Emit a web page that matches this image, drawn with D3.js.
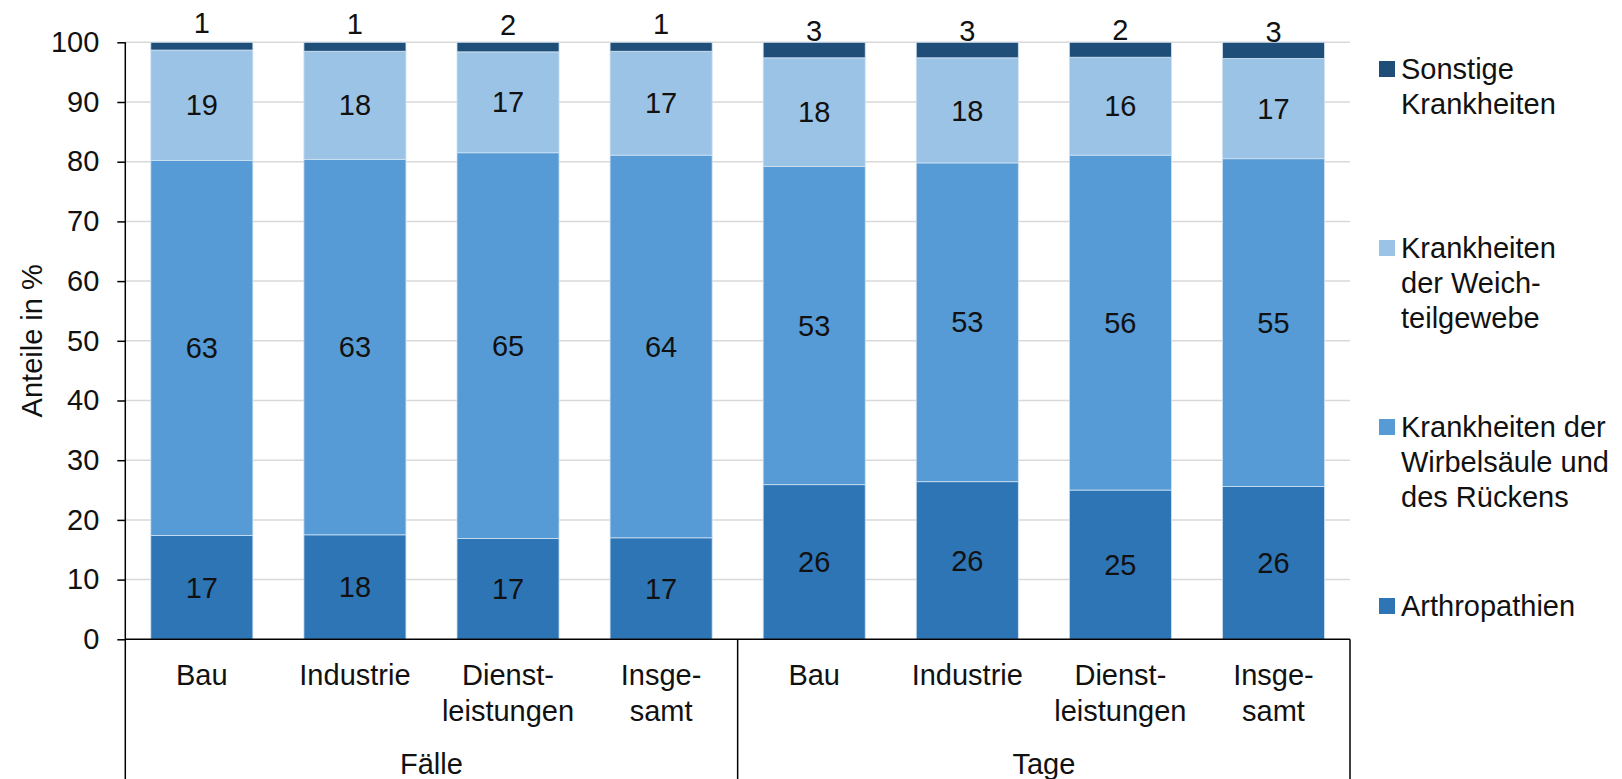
<!DOCTYPE html>
<meta charset="utf-8">
<head>
<title>Anteile in %</title>
<style>
  body { margin: 0; background: #fff; }
  text { font-family: "Liberation Sans", Arial, sans-serif; fill: #111; }
</style>
</head>
<body>
<div id="chart"></div>
<script src="https://d3js.org/d3.v7.min.js"></script>
<script>

// data (shares in %)
var groups = ["Fälle", "Tage"];
var branches = [["Bau"], ["Industrie"], ["Dienst-", "leistungen"], ["Insge-", "samt"]];
var arthropathien = [17.4, 17.5, 16.9, 17.0, 25.9, 26.4, 25.0, 25.6];
var wirbelsaeule  = [62.8, 62.9, 64.6, 64.1, 53.3, 53.4, 56.1, 54.9];
var weichteile    = [18.5, 18.1, 16.9, 17.4, 18.2, 17.6, 16.4, 16.8];
var sonstige      = [1.3, 1.5, 1.6, 1.5, 2.6, 2.6, 2.5, 2.7];
// printed labels
var lblArthro   = [17, 18, 17, 17, 26, 26, 25, 26];
var lblWirbel   = [63, 63, 65, 64, 53, 53, 56, 55];
var lblWeich    = [19, 18, 17, 17, 18, 18, 16, 17];
var lblSonstige = [1, 1, 2, 1, 3, 3, 2, 3];
var yTicks = [0, 10, 20, 30, 40, 50, 60, 70, 80, 90, 100];

var seriesNames = ["Arthropathien", "Wirbelsaeule", "Weichteile", "Sonstige"];
var seriesColors = ["#2e75b6", "#569bd5", "#9bc3e6", "#1f4e79"];
var legendLines = [
  ["Sonstige", "Krankheiten"],
  ["Krankheiten", "der Weich-", "teilgewebe"],
  ["Krankheiten der", "Wirbelsäule und", "des Rückens"],
  ["Arthropathien"]
];
var legendColors = ["#1f4e79", "#9bc3e6", "#569bd5", "#2e75b6"];

var width = 1622, height = 779;
var plotLeft = 125.3, plotRight = 1350, plotTop = 42.3, plotBottom = 639.3;
var fs = 29;

var svg = d3.select("#chart").append("svg")
  .attr("width", width)
  .attr("height", height);

var rows = [];
groups.forEach(function(g, gi) {
  branches.forEach(function(b, bi) {
    var i = gi * branches.length + bi;
    rows.push({
      key: g + "|" + bi, group: g, lines: b,
      Arthropathien: arthropathien[i], Wirbelsaeule: wirbelsaeule[i],
      Weichteile: weichteile[i], Sonstige: sonstige[i],
      labels: [lblArthro[i], lblWirbel[i], lblWeich[i], lblSonstige[i]]
    });
  });
});

var x = d3.scaleBand()
  .domain(rows.map(function(d) { return d.key; }))
  .range([plotLeft, plotRight])
  .paddingInner(1/3)
  .paddingOuter(1/6);

var y = d3.scaleLinear().domain([0, 100]).range([plotBottom, plotTop]);

// gridlines
svg.append("g").selectAll("line")
  .data(yTicks.filter(function(t) { return t > 0; }))
  .enter().append("line")
    .attr("x1", plotLeft).attr("x2", plotRight)
    .attr("y1", function(d) { return y(d); })
    .attr("y2", function(d) { return y(d); })
    .attr("stroke", "#d9d9d9")
    .attr("stroke-width", 1.5);

var stacked = d3.stack().keys(seriesNames)(rows);

svg.append("g").selectAll("g")
  .data(stacked)
  .enter().append("g")
    .attr("fill", function(d, i) { return seriesColors[i]; })
  .selectAll("rect")
  .data(function(d) { return d; })
  .enter().append("rect")
    .attr("x", function(d) { return x(d.data.key); })
    .attr("width", x.bandwidth())
    .attr("y", function(d) { return y(d[1]); })
    .attr("height", function(d) { return y(d[0]) - y(d[1]); })
    .attr("stroke", "#cfe2f3")
    .attr("stroke-width", 0.8);

// value labels
stacked.forEach(function(s, si) {
  svg.append("g").selectAll("text")
    .data(s)
    .enter().append("text")
      .attr("x", function(d) { return x(d.data.key) + x.bandwidth() / 2; })
      .attr("y", function(d) {
        if (si === 3) return y(d[0]) - 27;
        return (y(d[0]) + y(d[1])) / 2;
      })
      .attr("dy", "0.35em")
      .attr("text-anchor", "middle")
      .style("font-size", fs + "px")
      .text(function(d) { return d.data.labels[si]; });
});

// y axis
var yAxis = svg.append("g")
  .attr("transform", "translate(" + plotLeft + ",0)")
  .call(d3.axisLeft(y).tickValues(yTicks).tickSize(8).tickPadding(18));
yAxis.select(".domain").remove();
yAxis.selectAll("line").attr("stroke", "#000").attr("stroke-width", 1.5);
yAxis.selectAll("text").style("font-size", fs + "px").attr("fill", "#111")
  .style("font-family", "'Liberation Sans', Arial, sans-serif");

svg.append("text")
  .attr("transform", "translate(32," + ((plotTop + plotBottom) / 2) + ") rotate(-90)")
  .attr("text-anchor", "middle")
  .attr("dy", "0.35em")
  .style("font-size", fs + "px")
  .text("Anteile in %");

// axis frame: left spine, base line, group dividers
var step = x.step();
var frame = svg.append("g").attr("stroke", "#000").attr("stroke-width", 1.5);
frame.append("line").attr("x1", plotLeft).attr("x2", plotLeft).attr("y1", plotTop).attr("y2", height);
frame.append("line").attr("x1", plotLeft).attr("x2", plotRight).attr("y1", plotBottom).attr("y2", plotBottom);
groups.forEach(function(g, gi) {
  var xb = plotLeft + (gi + 1) * branches.length * step;
  frame.append("line").attr("x1", xb).attr("x2", xb).attr("y1", plotBottom).attr("y2", height);
});

// category labels
var cat = svg.append("g").selectAll("text")
  .data(rows)
  .enter().append("text")
    .attr("text-anchor", "middle")
    .attr("x", function(d) { return x(d.key) + x.bandwidth() / 2; })
    .attr("y", 675)
    .style("font-size", fs + "px");
cat.selectAll("tspan")
  .data(function(d) { return d.lines; })
  .enter().append("tspan")
    .attr("x", function() { var p = d3.select(this.parentNode).datum(); return x(p.key) + x.bandwidth() / 2; })
    .attr("dy", function(d, i) { return i === 0 ? "0.35em" : "1.22em"; })
    .text(function(d) { return d; });

// group labels
svg.append("g").selectAll("text")
  .data(groups)
  .enter().append("text")
    .attr("text-anchor", "middle")
    .attr("x", function(d, gi) { return plotLeft + (gi + 0.5) * branches.length * step; })
    .attr("y", 764)
    .attr("dy", "0.35em")
    .style("font-size", fs + "px")
    .text(function(d) { return d; });

// legend
var legend = svg.append("g").selectAll("g")
  .data(legendLines)
  .enter().append("g")
    .attr("transform", function(d, i) { return "translate(1379," + (69 + i * 179) + ")"; });
legend.append("rect")
  .attr("x", 0).attr("y", -8).attr("width", 16).attr("height", 16)
  .attr("fill", function(d, i) { return legendColors[i]; });
legend.append("text")
  .style("font-size", fs + "px")
  .selectAll("tspan")
  .data(function(d) { return d; })
  .enter().append("tspan")
    .attr("x", 22)
    .attr("y", function(d, i) { return i * 35; })
    .attr("dy", "0.35em")
    .text(function(d) { return d; });

</script>
</body>
